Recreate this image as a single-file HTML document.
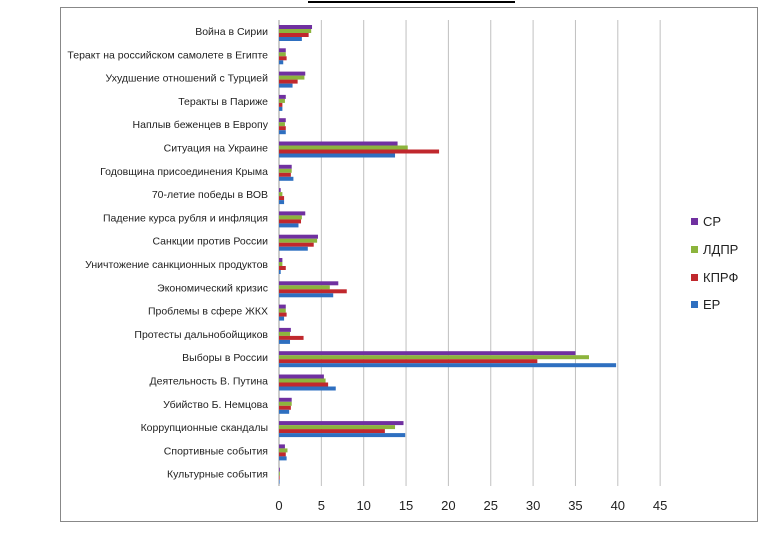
<!DOCTYPE html>
<html><head><meta charset="utf-8"><style>
html,body{margin:0;padding:0;background:#fff;}
svg{display:block;}
text{font-family:"Liberation Sans",sans-serif;}
</style></head><body>
<svg width="773" height="541" viewBox="0 0 773 541" xmlns="http://www.w3.org/2000/svg">
<rect x="0" y="0" width="773" height="541" fill="#fff"/>
<line x1="308" y1="2" x2="515" y2="2" stroke="#000" stroke-width="2"/>
<rect x="60.5" y="7.5" width="697" height="514" fill="#fff" stroke="#888" stroke-width="1"/>
<g id="grid" stroke="#c0c0c0" stroke-width="1"></g>
<g id="bars"></g>
<g id="labels" font-size="10.5" fill="#222" text-anchor="end"></g>
<g id="ticks" font-size="13" fill="#222" text-anchor="middle"></g>
<g font-size="13" fill="#222">
<rect x="691" y="218" width="7" height="7" fill="#7030a0"/><text x="703" y="226">СР</text>
<rect x="691" y="246" width="7" height="7" fill="#8cb43c"/><text x="703" y="254">ЛДПР</text>
<rect x="691" y="274" width="7" height="7" fill="#c0282d"/><text x="703" y="282">КПРФ</text>
<rect x="691" y="301" width="7" height="7" fill="#2e6fc0"/><text x="703" y="309">ЕР</text>
</g>
<script>
(function(){
var x0=279,s=8.47,yTop=20,band=23.3;
var NS="http://www.w3.org/2000/svg";
function el(p,t,a,txt){var e=document.createElementNS(NS,t);for(var k in a)e.setAttribute(k,a[k]);if(txt)e.textContent=txt;document.getElementById(p).appendChild(e);}
for(var i=1;i<=9;i++){var x=x0+i*5*s;el("grid","line",{x1:x,y1:yTop,x2:x,y2:486});}
el("grid","line",{x1:x0,y1:yTop,x2:x0,y2:486,stroke:"#999"});
for(var i=0;i<=9;i++){el("ticks","text",{x:x0+i*5*s,y:510},String(i*5));}
var d=[
["Война в Сирии",3.9,3.8,3.5,2.7],
["Теракт на российском самолете в Египте",0.8,0.8,0.9,0.5],
["Ухудшение отношений с Турцией",3.1,3.0,2.2,1.6],
["Теракты в Париже",0.8,0.7,0.4,0.4],
["Наплыв беженцев в Европу",0.8,0.7,0.8,0.8],
["Ситуация на Украине",14.0,15.2,18.9,13.7],
["Годовщина присоединения Крыма",1.5,1.5,1.4,1.7],
["70-летие победы в ВОВ",0.2,0.4,0.6,0.6],
["Падение курса рубля и инфляция",3.1,2.7,2.6,2.3],
["Санкции против России",4.6,4.5,4.1,3.4],
["Уничтожение санкционных продуктов",0.4,0.4,0.8,0.2],
["Экономический кризис",7.0,6.0,8.0,6.4],
["Проблемы в сфере ЖКХ",0.8,0.8,0.9,0.6],
["Протесты дальнобойщиков",1.4,1.3,2.9,1.3],
["Выборы в России",35.0,36.6,30.5,39.8],
["Деятельность В. Путина",5.3,5.5,5.8,6.7],
["Убийство Б. Немцова",1.5,1.5,1.4,1.2],
["Коррупционные скандалы",14.7,13.7,12.5,14.9],
["Спортивные события",0.7,1.0,0.8,0.9],
["Культурные события",0.1,0.1,0.05,0.05]];
var c=["#7030a0","#8cb43c","#c0282d","#2e6fc0"];
d.forEach(function(r,i){var y=yTop+i*band;
el("labels","text",{x:268,y:y+15},r[0]);
for(var j=0;j<4;j++){el("bars","rect",{x:x0,y:y+5+j*4,width:Math.max(r[j+1]*s,0.6),height:4,fill:c[j]});}
});
})();
</script>
</svg>
</body></html>
